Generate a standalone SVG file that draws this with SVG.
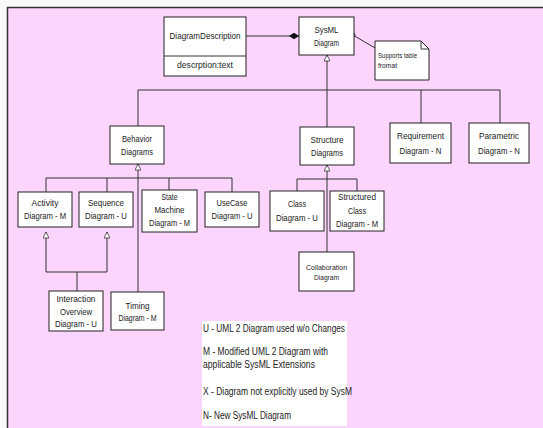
<svg xmlns="http://www.w3.org/2000/svg" width="543" height="428" viewBox="0 0 543 428">
<style>
.box{fill:#fff;stroke:#222;stroke-width:1}
.t{font-family:"Liberation Sans",Arial,sans-serif;font-size:9.5px;fill:#222;text-anchor:middle}
.s{font-size:8px}
.lg{font-family:"Liberation Sans",Arial,sans-serif;font-size:10px;fill:#222}
.c{fill:none;stroke:#333;stroke-width:1}
</style>
<defs>
<marker id="gen" viewBox="0 0 10 10" refX="10" refY="5" markerWidth="8" markerHeight="6" orient="auto" markerUnits="userSpaceOnUse">
<path d="M0,0 L10,5 L0,10 z" fill="#fff" stroke="#222" stroke-width="1.2"/>
</marker>
<marker id="dia" viewBox="0 0 12 8" refX="12" refY="4" markerWidth="10" markerHeight="7" orient="auto" markerUnits="userSpaceOnUse">
<path d="M0,4 L6,0 L12,4 L6,8 z" fill="#111"/>
</marker>
</defs>
<rect x="0" y="0" width="543" height="428" fill="#f9f9f9"/>
<rect x="7.5" y="7.5" width="540" height="425" fill="#fcd5fc" stroke="#333" stroke-width="1.5"/>

<g id="connectors">
<line class="c" x1="246" y1="36" x2="299" y2="36" marker-end="url(#dia)"/>
<line class="c" x1="353" y1="35" x2="375" y2="48"/>
<circle cx="353" cy="35" r="2" fill="#fff" stroke="#222" stroke-width="1"/>
<line class="c" x1="327" y1="90" x2="327" y2="55" marker-end="url(#gen)"/>
<path class="c" d="M138,126 V90 H500 V123 M421,90 V123 M327,90 V127"/>
<line class="c" x1="138" y1="178" x2="138" y2="164" marker-end="url(#gen)"/>
<path class="c" d="M46,192 V178 H232 V192 M107,178 V192 M169,178 V190 M138,178 V292"/>
<path class="c" d="M77,291 V272 H46 V232" marker-end="url(#gen)"/>
<path class="c" d="M77,272 H107 V232" marker-end="url(#gen)"/>
<line class="c" x1="327" y1="179" x2="327" y2="165" marker-end="url(#gen)"/>
<path class="c" d="M297,191 V179 H357 V191 M327,179 V252"/>
</g>

<g id="diagramDescription">
<rect class="box" x="164" y="17" width="82" height="59"/>
<line class="c" x1="164" y1="56" x2="246" y2="56"/>
<text class="t" x="205" y="39" textLength="71" lengthAdjust="spacingAndGlyphs">DiagramDescription</text>
<text class="t" x="205" y="68" textLength="56" lengthAdjust="spacingAndGlyphs">descrption:text</text>
</g>
<g id="sysml">
<rect class="box" x="299" y="17" width="55" height="38"/>
<text class="t" x="326.5" y="33" textLength="24" lengthAdjust="spacingAndGlyphs">SysML</text>
<text class="t" x="326.5" y="46" textLength="25" lengthAdjust="spacingAndGlyphs">Diagram</text>
</g>
<g id="note">
<path class="box" d="M375,41 H421 L429,49 V80 H375 Z"/>
<path class="c" d="M421,41 V49 H429"/>
<text class="t s" x="378" y="58" style="text-anchor:start" textLength="39" lengthAdjust="spacingAndGlyphs">Supports table</text>
<text class="t s" x="378" y="68" style="text-anchor:start" textLength="19" lengthAdjust="spacingAndGlyphs">fromat</text>
</g>
<g id="behavior">
<rect class="box" x="110" y="126" width="54" height="38"/>
<text class="t" x="137" y="142" textLength="30" lengthAdjust="spacingAndGlyphs">Behavior</text>
<text class="t" x="137" y="155" textLength="32" lengthAdjust="spacingAndGlyphs">Diagrams</text>
</g>
<g id="structure">
<rect class="box" x="300" y="127" width="54" height="38"/>
<text class="t" x="327" y="143" textLength="33" lengthAdjust="spacingAndGlyphs">Structure</text>
<text class="t" x="327" y="156" textLength="32" lengthAdjust="spacingAndGlyphs">Diagrams</text>
</g>
<g id="requirement">
<rect class="box" x="390" y="123" width="61" height="40"/>
<text class="t" x="420.5" y="139" textLength="47" lengthAdjust="spacingAndGlyphs">Requirement</text>
<text class="t" x="420.5" y="154" textLength="42" lengthAdjust="spacingAndGlyphs">Diagram - N</text>
</g>
<g id="parametric">
<rect class="box" x="469" y="123" width="60" height="40"/>
<text class="t" x="499" y="139" textLength="40" lengthAdjust="spacingAndGlyphs">Parametric</text>
<text class="t" x="499" y="154" textLength="42" lengthAdjust="spacingAndGlyphs">Diagram - N</text>
</g>
<g id="activity">
<rect class="box" x="18" y="192" width="54" height="35"/>
<text class="t" x="45" y="206" textLength="27" lengthAdjust="spacingAndGlyphs">Activity</text>
<text class="t" x="45" y="219" textLength="42" lengthAdjust="spacingAndGlyphs">Diagram - M</text>
</g>
<g id="sequence">
<rect class="box" x="79" y="192" width="54" height="35"/>
<text class="t" x="106" y="206" textLength="36" lengthAdjust="spacingAndGlyphs">Sequence</text>
<text class="t" x="106" y="219" textLength="42" lengthAdjust="spacingAndGlyphs">Diagram - U</text>
</g>
<g id="stateMachine">
<rect class="box" x="142" y="190" width="55" height="42"/>
<text class="t" x="169.5" y="200" textLength="16" lengthAdjust="spacingAndGlyphs">State</text>
<text class="t" x="169.5" y="213" textLength="30" lengthAdjust="spacingAndGlyphs">Machine</text>
<text class="t" x="169.5" y="226" textLength="41" lengthAdjust="spacingAndGlyphs">Diagram - M</text>
</g>
<g id="useCase">
<rect class="box" x="205" y="192" width="54" height="35"/>
<text class="t" x="232" y="206" textLength="31" lengthAdjust="spacingAndGlyphs">UseCase</text>
<text class="t" x="232" y="219" textLength="41" lengthAdjust="spacingAndGlyphs">Diagram - U</text>
</g>
<g id="class">
<rect class="box" x="270" y="191" width="54" height="40"/>
<text class="t" x="297" y="207" textLength="18" lengthAdjust="spacingAndGlyphs">Class</text>
<text class="t" x="297" y="221" textLength="42" lengthAdjust="spacingAndGlyphs">Diagram - U</text>
</g>
<g id="structuredClass">
<rect class="box" x="330" y="191" width="54" height="40"/>
<text class="t" x="357" y="200" textLength="38" lengthAdjust="spacingAndGlyphs">Structured</text>
<text class="t" x="357" y="214" textLength="18" lengthAdjust="spacingAndGlyphs">Class</text>
<text class="t" x="357" y="227" textLength="42" lengthAdjust="spacingAndGlyphs">Diagram - M</text>
</g>
<g id="collaboration">
<rect class="box" x="299" y="252" width="55" height="39"/>
<text class="t s" x="326.5" y="270" textLength="41" lengthAdjust="spacingAndGlyphs">Collaboration</text>
<text class="t s" x="326.5" y="280" textLength="25" lengthAdjust="spacingAndGlyphs">Diagram</text>
</g>
<g id="interaction">
<rect class="box" x="49" y="291" width="54" height="40"/>
<text class="t" x="76" y="302" textLength="39" lengthAdjust="spacingAndGlyphs">Interaction</text>
<text class="t" x="76" y="315" textLength="32" lengthAdjust="spacingAndGlyphs">Overview</text>
<text class="t" x="76" y="327" textLength="42" lengthAdjust="spacingAndGlyphs">Diagram - U</text>
</g>
<g id="timing">
<rect class="box" x="111" y="292" width="53" height="38"/>
<text class="t" x="137.5" y="309" textLength="24" lengthAdjust="spacingAndGlyphs">Timing</text>
<text class="t" x="137.5" y="321" textLength="38" lengthAdjust="spacingAndGlyphs">Diagram - M</text>
</g>
<g id="legend">
<rect x="202" y="321" width="145" height="105" fill="#fff"/>
<text class="lg" x="203" y="332" textLength="142" lengthAdjust="spacingAndGlyphs">U - UML 2 Diagram used w/o Changes</text>
<text class="lg" x="203" y="355" textLength="125" lengthAdjust="spacingAndGlyphs">M  - Modified UML 2 Diagram with</text>
<text class="lg" x="203" y="368" textLength="112" lengthAdjust="spacingAndGlyphs">applicable SysML Extensions</text>
<text class="lg" x="203" y="395" textLength="149" lengthAdjust="spacingAndGlyphs">X - Diagram not explicitly used by SysM</text>
<text class="lg" x="203" y="419" textLength="88" lengthAdjust="spacingAndGlyphs">N- New SysML Diagram</text>
</g>
</svg>
